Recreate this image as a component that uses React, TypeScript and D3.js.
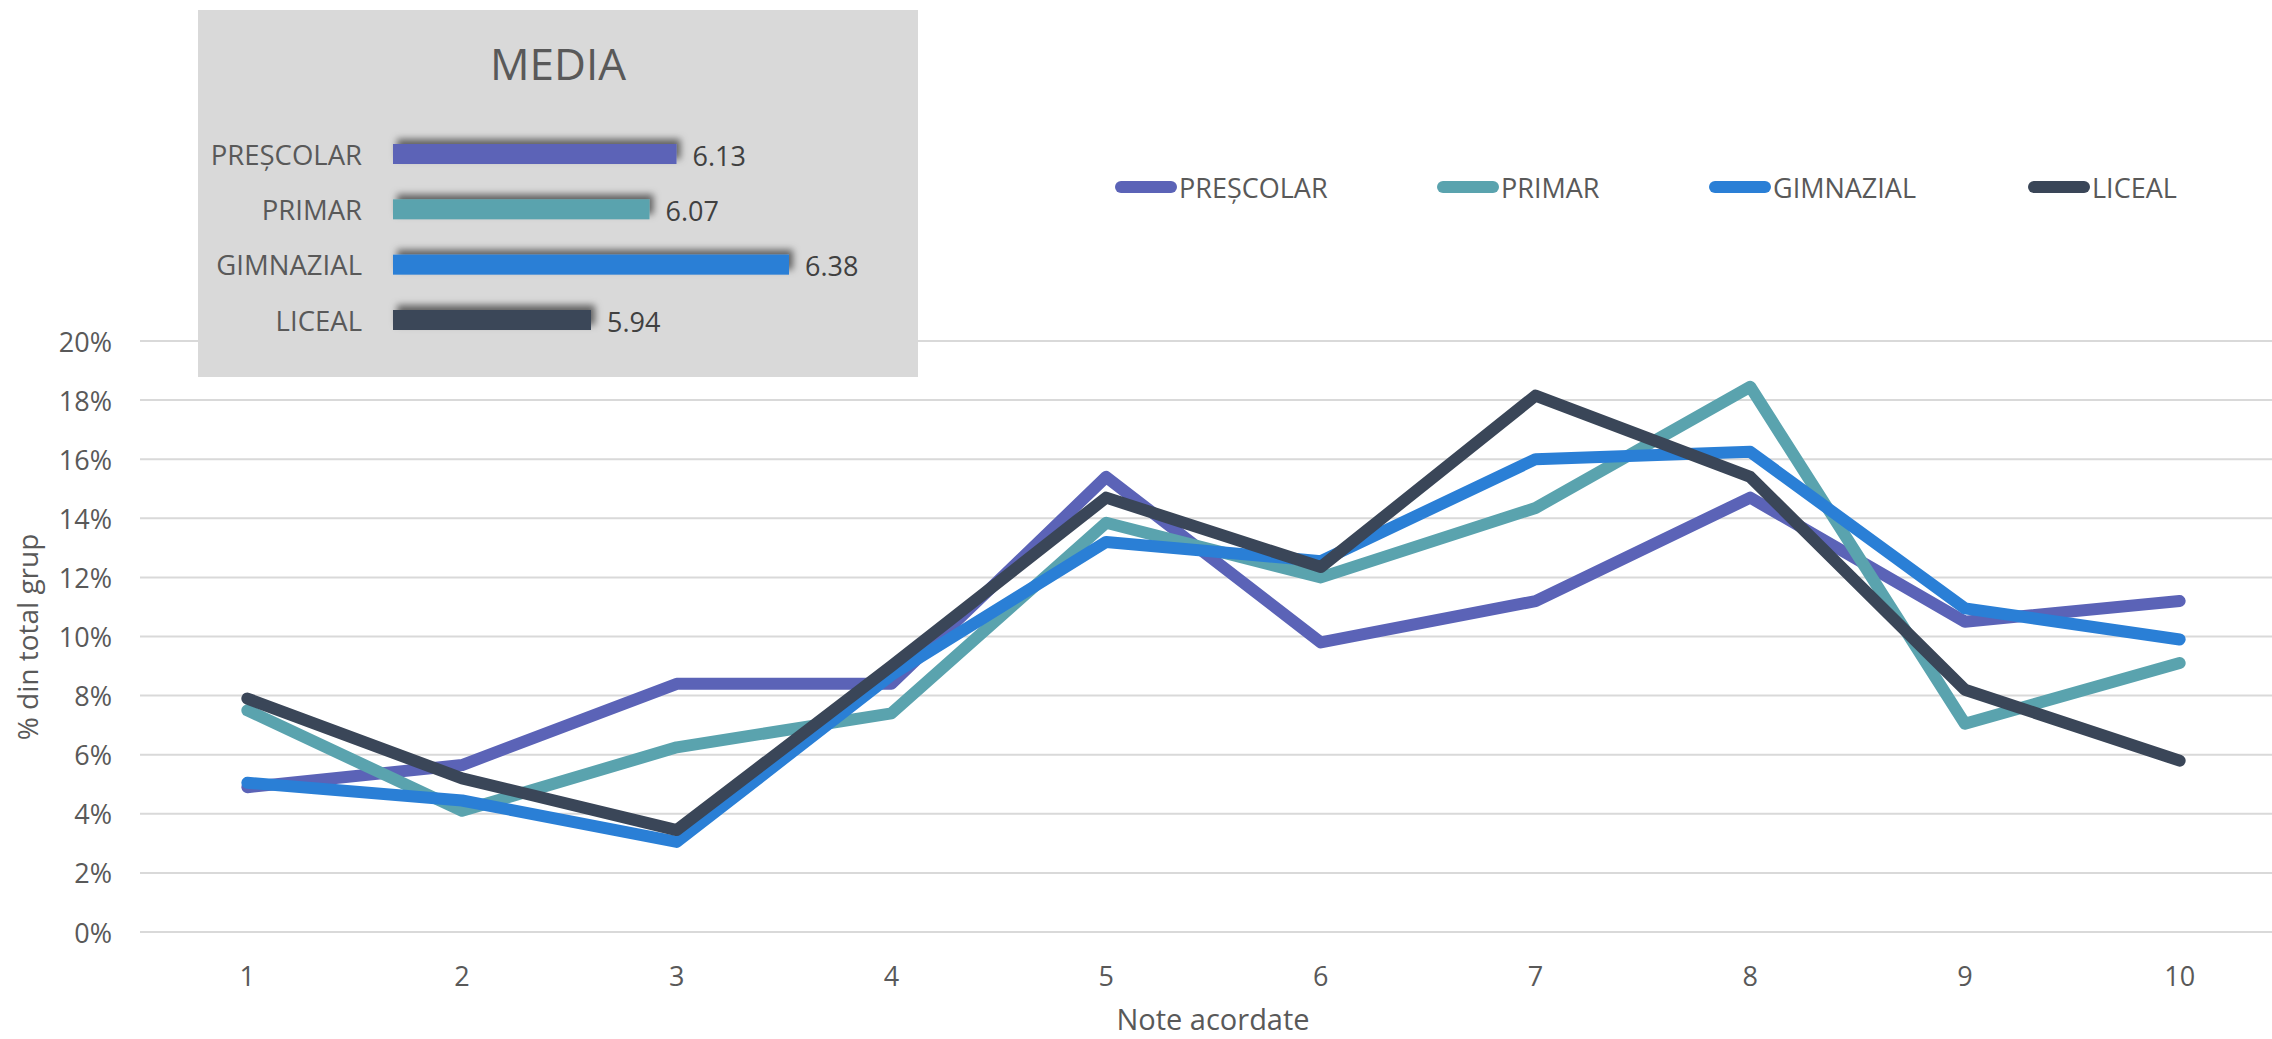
import React from "react";
import * as d3 from "d3";

const notes = ["1", "2", "3", "4", "5", "6", "7", "8", "9", "10"];
const seriesNames = ["PREȘCOLAR", "PRIMAR", "GIMNAZIAL", "LICEAL"];
const prescolar = [4.9, 5.65, 8.4, 8.4, 15.4, 9.8, 11.2, 14.7, 10.5, 11.2];
const primar = [7.5, 4.1, 6.25, 7.4, 13.85, 12.0, 14.35, 18.45, 7.05, 9.1];
const gimnazial = [5.05, 4.45, 3.05, 8.7, 13.2, 12.55, 16.0, 16.25, 10.95, 9.9];
const liceal = [7.9, 5.2, 3.45, 9.0, 14.7, 12.35, 18.15, 15.4, 8.2, 5.8];
const mediaValues = [6.13, 6.07, 6.38, 5.94];
const yTicks = [0, 2, 4, 6, 8, 10, 12, 14, 16, 18, 20];
const colors = ["#5B63B7", "#5AA3AE", "#2A7FD6", "#3A4658"];

const W = 2272;
const H = 1039;
const FONT = "'Open Sans', 'DejaVu Sans', sans-serif";
const legendX = [1115, 1437, 1709, 2028];

export default function App() {
  const allSeries = [prescolar, primar, gimnazial, liceal];
  const x = d3.scaleBand<string>().domain(notes).range([140, 2287]).padding(0);
  const cx = (n: string) => (x(n) as number) + x.bandwidth() / 2;
  const y = d3.scaleLinear().domain([0, 20]).range([932, 341]);
  const line = d3
    .line<number>()
    .x((_, i) => cx(notes[i]))
    .y((d) => y(d));

  const bx = d3.scaleLinear().domain([5.5, 6.5]).range([393, 843]);
  const by = d3.scalePoint<string>().domain(seriesNames).range([154, 320]);

  return (
    <svg
      width={W}
      height={H}
      style={{ position: "absolute", left: 0, top: 0, background: "#fff" }}
      fontFamily={FONT}
    >
      <defs>
        <filter id="shadow" x="-20%" y="-100%" width="140%" height="300%">
          <feDropShadow dx="4" dy="-5" stdDeviation="3.5" floodColor="#000" floodOpacity="0.55" />
        </filter>
      </defs>
      <rect x={0} y={0} width={W} height={H} fill="#fff" />
      {yTicks.map((t) => (
        <line key={t} x1={140} x2={2287} y1={y(t)} y2={y(t)} stroke="#d9d9d9" strokeWidth={2} />
      ))}
      {yTicks.map((t) => (
        <text key={"yl" + t} x={112} y={y(t)} textAnchor="end" dominantBaseline="central" fontSize={27} fill="#595959">
          {t + "%"}
        </text>
      ))}
      {notes.map((n) => (
        <text key={"xl" + n} x={cx(n)} y={975} textAnchor="middle" dominantBaseline="central" fontSize={27} fill="#595959">
          {n}
        </text>
      ))}
      <text x={1213} y={1018} textAnchor="middle" dominantBaseline="central" fontSize={29} fill="#595959">
        Note acordate
      </text>
      <text
        transform={`translate(27,637) rotate(-90)`}
        textAnchor="middle"
        dominantBaseline="central"
        fontSize={28}
        fill="#595959"
      >
        % din total grup
      </text>
      {allSeries.map((s, i) => (
        <path
          key={"ln" + i}
          d={line(s) as string}
          fill="none"
          stroke={colors[i]}
          strokeWidth={12}
          strokeLinejoin="round"
          strokeLinecap="round"
        />
      ))}
      {seriesNames.map((name, i) => (
        <g key={"lg" + i}>
          <line
            x1={legendX[i] + 6}
            x2={legendX[i] + 56}
            y1={187}
            y2={187}
            stroke={colors[i]}
            strokeWidth={12}
            strokeLinecap="round"
          />
          <text x={legendX[i] + 64} y={187} dominantBaseline="central" fontSize={27} fill="#595959">
            {name}
          </text>
        </g>
      ))}
      <rect x={198} y={10} width={720} height={367} fill="#d9d9d9" />
      <text x={558} y={63} textAnchor="middle" dominantBaseline="central" fontSize={44} fill="#595959">
        MEDIA
      </text>
      {seriesNames.map((name, i) => (
        <g key={"bar" + i}>
          <rect
            x={bx(5.5)}
            y={(by(name) as number) - 10}
            width={bx(mediaValues[i]) - bx(5.5)}
            height={20}
            fill={colors[i]}
            filter="url(#shadow)"
          />
          <text
            x={362}
            y={by(name) as number}
            textAnchor="end"
            dominantBaseline="central"
            fontSize={27.5}
            fill="#595959"
          >
            {name}
          </text>
          <text
            x={bx(mediaValues[i]) + 16}
            y={(by(name) as number) + 1}
            dominantBaseline="central"
            fontSize={27}
            fill="#404040"
          >
            {mediaValues[i].toFixed(2)}
          </text>
        </g>
      ))}
    </svg>
  );
}
